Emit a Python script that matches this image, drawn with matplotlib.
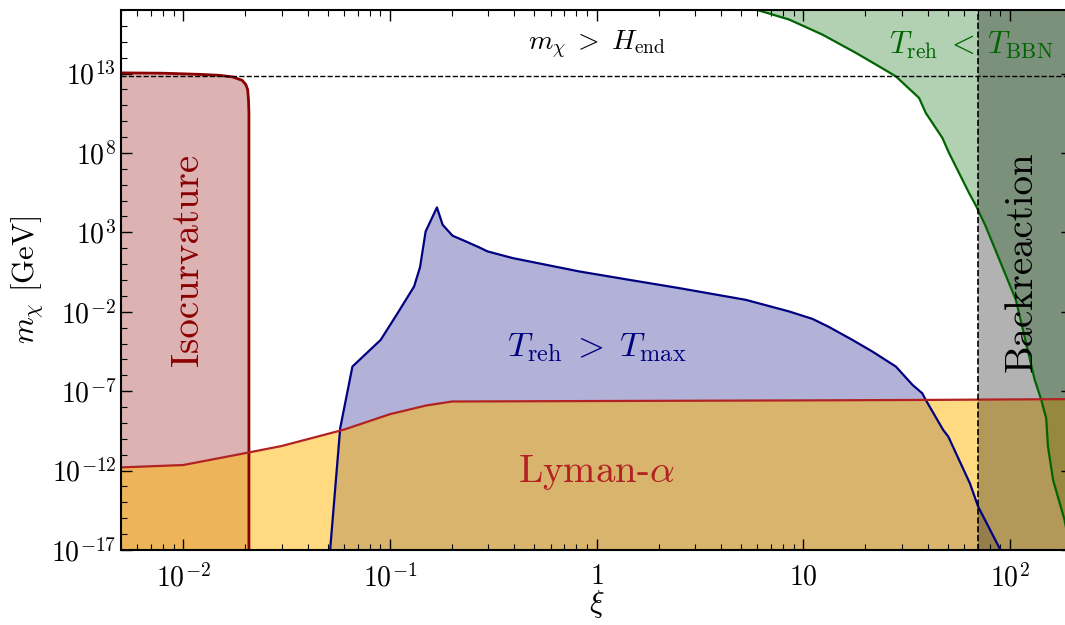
import matplotlib
matplotlib.use("Agg")
import matplotlib.pyplot as plt
import numpy as np

plt.rcParams['font.family'] = 'serif'
plt.rcParams['font.serif'] = ['cmr10', 'DejaVu Serif']
plt.rcParams['mathtext.fontset'] = 'cm'
plt.rcParams['axes.formatter.use_mathtext'] = True
plt.rcParams['axes.unicode_minus'] = False

# limits of the plane
xi_min, xi_max = 0.005, 200
m_min, m_max = 1e-17, 1e17
H_end = 7e12
xi_backreaction = 70

# isocurvature bound (upper edge), log10 m
xi_iso = [0.005, 0.008, 0.0119, 0.0149, 0.0173, 0.0193, 0.0201, 0.0205, 0.0207, 0.0208, 0.0208]
logm_iso = [13.04, 13.02, 12.95, 12.89, 12.79, 12.57, 12.30, 11.99, 11.35, 10.5, -17.0]

# T_reh > T_max region (upper edge), log10 m
xi_tmax = [0.0514, 0.0575, 0.0659, 0.0903, 0.109, 0.131, 0.140, 0.149, 0.169, 0.180,
           0.201, 0.233, 0.270, 0.297, 0.393, 0.49, 0.824, 1.44, 2.51, 5.28, 8.55,
           11.1, 13.3, 17.3, 21.6, 28.1, 33.8, 37.7, 39.2, 47.6, 50.4, 64.1, 70.3,
           89.3, 90.0]
logm_tmax = [-17.0, -9.33, -5.45, -3.77, -2.09, -0.41, 0.81, 3.06, 4.57, 3.48,
             2.79, 2.43, 2.06, 1.8, 1.38, 1.13, 0.54, 0.01, -0.51, -1.25, -1.98,
             -2.45, -2.95, -3.77, -4.5, -5.45, -6.6, -7.13, -7.55, -9.44, -9.86, -12.8, -14.27,
             -16.9, -17.0]

# T_reh < T_BBN boundary, log10 m
xi_bbn = [6.0, 8.55, 12.4, 18.0, 23.3, 28.1, 36.4, 39.2, 47.2, 50.8, 63.5, 68.9, 76.5,
          107, 122, 132, 142, 150, 153, 162, 184, 200]
logm_bbn = [17.0, 16.4, 15.45, 14.3, 13.45, 12.82, 11.46, 10.52, 8.94, 8.0, 5.48, 4.63, 3.37,
            -1.25, -4.4, -6.29, -7.55, -8.7, -10.49, -12.59, -15.1, -17.5]

# Lyman-alpha bound, log10 m
xi_lya = [0.005, 0.01, 0.02, 0.03, 0.06, 0.1, 0.15, 0.2, 1, 10, 40, 100, 200]
logm_lya = [-11.8, -11.65, -10.9, -10.45, -9.42, -8.45, -7.9, -7.65, -7.62, -7.58, -7.55, -7.52, -7.5]

xticks = [1e-2, 1e-1, 1, 10, 1e2]
xticklabels = ['$10^{-2}$', '$10^{-1}$', '$1$', '$10$', '$10^{2}$']
yticks_exp = [-17, -12, -7, -2, 3, 8, 13]

fig = plt.figure(figsize=(10.65, 6.25), dpi=100)
ax = fig.add_axes([121 / 1065, 75 / 625, 951 / 1065, 540 / 625])
ax.set_xscale('log')
ax.set_yscale('log')

m_iso = 10.0 ** np.array(logm_iso)
ax.fill_between(xi_iso, m_min, m_iso, color='darkred', alpha=0.3, lw=0)
ax.plot(xi_iso, m_iso, color='darkred', lw=2)

m_tmax = 10.0 ** np.array(logm_tmax)
ax.fill_between(xi_tmax, m_min, m_tmax, color='navy', alpha=0.3, lw=0)
ax.plot(xi_tmax, m_tmax, color='navy', lw=1.6)

m_bbn = 10.0 ** np.array(logm_bbn)
ax.fill_between(xi_bbn, m_bbn, 1e18, color='darkgreen', alpha=0.3, lw=0)
ax.plot(xi_bbn, m_bbn, color='darkgreen', lw=1.6)

m_lya = 10.0 ** np.array(logm_lya)
ax.fill_between(xi_lya, m_min, m_lya, color='#ffb703', alpha=0.5, lw=0)
ax.plot(xi_lya, m_lya, color='firebrick', lw=1.6)

ax.axvspan(xi_backreaction, xi_max, color='k', alpha=0.3, lw=0)
ax.axvline(xi_backreaction, color='k', ls='--', lw=1.2)
ax.axhline(H_end, color='k', ls='--', lw=1.0)

ax.text(1, 6e14, r'$m_\chi \;>\; H_{\rm end}$', fontsize=20, ha='center', va='center')
ax.text(65, 6e14, r'$T_{\rm reh} \;<\; T_{\rm BBN}$', fontsize=22, color='darkgreen',
        ha='center', va='center')
ax.text(0.0105, 18, 'Isocurvature', fontsize=28, color='darkred', rotation=90,
        ha='center', va='center')
ax.text(1, 10 ** -4.27, r'$T_{\rm reh} \;>\; T_{\rm max}$', fontsize=25, color='navy',
        ha='center', va='center')
ax.text(1, 10 ** -12.1, r'Lyman-$\alpha$', fontsize=28, color='firebrick',
        ha='center', va='center')
ax.text(114, 10 ** 1.15, 'Backreaction', fontsize=28, color='k', rotation=90,
        ha='center', va='center')

ax.set_xlim(xi_min, xi_max)
ax.set_ylim(m_min, m_max)
ax.set_xticks(xticks)
ax.set_xticklabels(xticklabels)
ax.set_yticks([10.0 ** e for e in yticks_exp])
ax.set_yticklabels(['$10^{%d}$' % e for e in yticks_exp])
ax.yaxis.set_minor_locator(matplotlib.ticker.FixedLocator([10.0 ** e for e in range(-17, 18)]))
ax.yaxis.set_minor_formatter(matplotlib.ticker.NullFormatter())
ax.tick_params(which='both', direction='in', top=True, right=True, labelsize=20)
ax.tick_params(which='major', length=8, width=1)
ax.tick_params(which='minor', length=4, width=0.8)
ax.tick_params(axis='x', pad=10)
for s in ax.spines.values():
    s.set_linewidth(1.5)

ax.set_xlabel(r'$\xi$', fontsize=22, labelpad=-3)
ax.set_ylabel(r'$m_\chi$ [GeV]', fontsize=22, labelpad=4)

fig.savefig('out.png', dpi=100)
